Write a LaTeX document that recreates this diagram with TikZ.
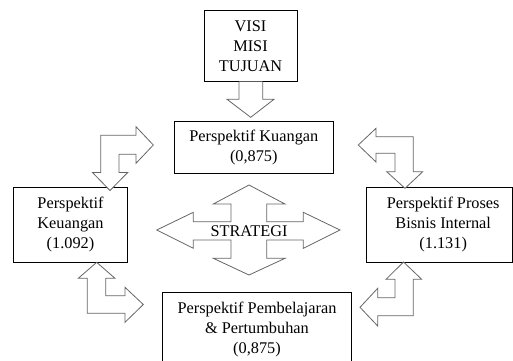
\documentclass[tikz,border=0pt]{standalone}
\usepackage{fontspec}
\setmainfont{Liberation Serif}
\begin{document}
\begin{tikzpicture}[x=1pt,y=-1pt,
  box/.style={draw=black,line width=0.8pt,inner sep=0pt,align=center,font=\fontsize{16.3}{20}\selectfont},
  blockarrow/.style={draw=black!60,line width=0.8pt,line join=miter,fill=white},
  lbl/.style={inner sep=0pt,font=\fontsize{16.3}{20}\selectfont}]
\useasboundingbox (0,0) rectangle (513,360);
\clip (0,0) rectangle (513,360);

% boxes
\node[box,minimum width=93pt,minimum height=71pt] (visi) at (250.5,46.2) {VISI\\MISI\\TUJUAN};
\node[box,minimum width=159pt,minimum height=52.3pt] (kuangan) at (253.8,147.2) {Perspektif Kuangan\\(0,875)};
\node[box,minimum width=114.4pt,minimum height=75pt] (keuangan) at (70.5,224.8) {Perspektif\\Keuangan\\(1.092)};
\node[box,minimum width=146pt,minimum height=75pt] (proses) at (439.7,224.8) {\hspace*{7pt}Perspektif Proses\\\hspace*{7pt}Bisnis Internal\\\hspace*{7pt}(1.131)};
\node[box,minimum width=189.4pt,minimum height=75pt] (belajar) at (257,329.8) {Perspektif Pembelajaran\\\& Pertumbuhan\\(0,875)};

% arrow from VISI down to Kuangan
\draw[blockarrow] (239,81.7) -- (239,99.3) -- (227,99.3) -- (250.7,117.3) -- (274,99.3) -- (262.7,99.3) -- (262.7,81.7);

% upper-left bent arrow
\draw[blockarrow] (100.7,135.3) -- (136,135.3) -- (136,126.7) -- (153.3,145) -- (136,163.3) -- (136,154.3)
  -- (119,154.3) -- (119,172.5) -- (127.7,172.5) -- (110,190.5) -- (92.5,172.5) -- (100.7,172.5) -- cycle;

% upper-right bent arrow
\draw[blockarrow] (358.3,145) -- (376,128.3) -- (376,136.7) -- (413.3,136.7) -- (413.3,171.7) -- (422.7,171.7)
  -- (405,188.3) -- (386.7,171.7) -- (395,171.7) -- (395,153.3) -- (376,153.3) -- (376,162) -- cycle;

% lower-left bent arrow
\draw[blockarrow] (96.7,262.3) -- (115,278.3) -- (105.7,278.3) -- (105.7,295.7) -- (125,295.7) -- (125,287.3) -- (143.3,304.5)
  -- (125,322.3) -- (125,313.3) -- (87.3,313.3) -- (87.3,278.3) -- (78.3,278.3) -- cycle;

% lower-right bent arrow
\draw[blockarrow] (403.5,262) -- (421.7,279.3) -- (413.3,279.3) -- (413.3,315.7) -- (377.7,315.7) -- (377.7,326)
  -- (360,307.3) -- (377.7,288.3) -- (377.7,297.7) -- (395,297.7) -- (395,279.3) -- (386,279.3) -- cycle;

% STRATEGI four-way arrow
\draw[blockarrow] (249,185) -- (285,204) -- (266.7,204) -- (266.7,221.7) -- (303.3,221.7) -- (303.3,212.3)
  -- (340,230) -- (303.3,248.3) -- (303.3,240) -- (266.7,240) -- (266.7,258.3) -- (285,258.3) -- (249,275)
  -- (213.3,258.3) -- (231,258.3) -- (231,240) -- (193.3,240) -- (193.3,248.3) -- (156.7,230) -- (193.3,212.3)
  -- (193.3,221.7) -- (231,221.7) -- (231,204) -- (213.3,204) -- cycle;
\node[lbl] (strategi) at (249,231) {STRATEGI};
\end{tikzpicture}
\end{document}
